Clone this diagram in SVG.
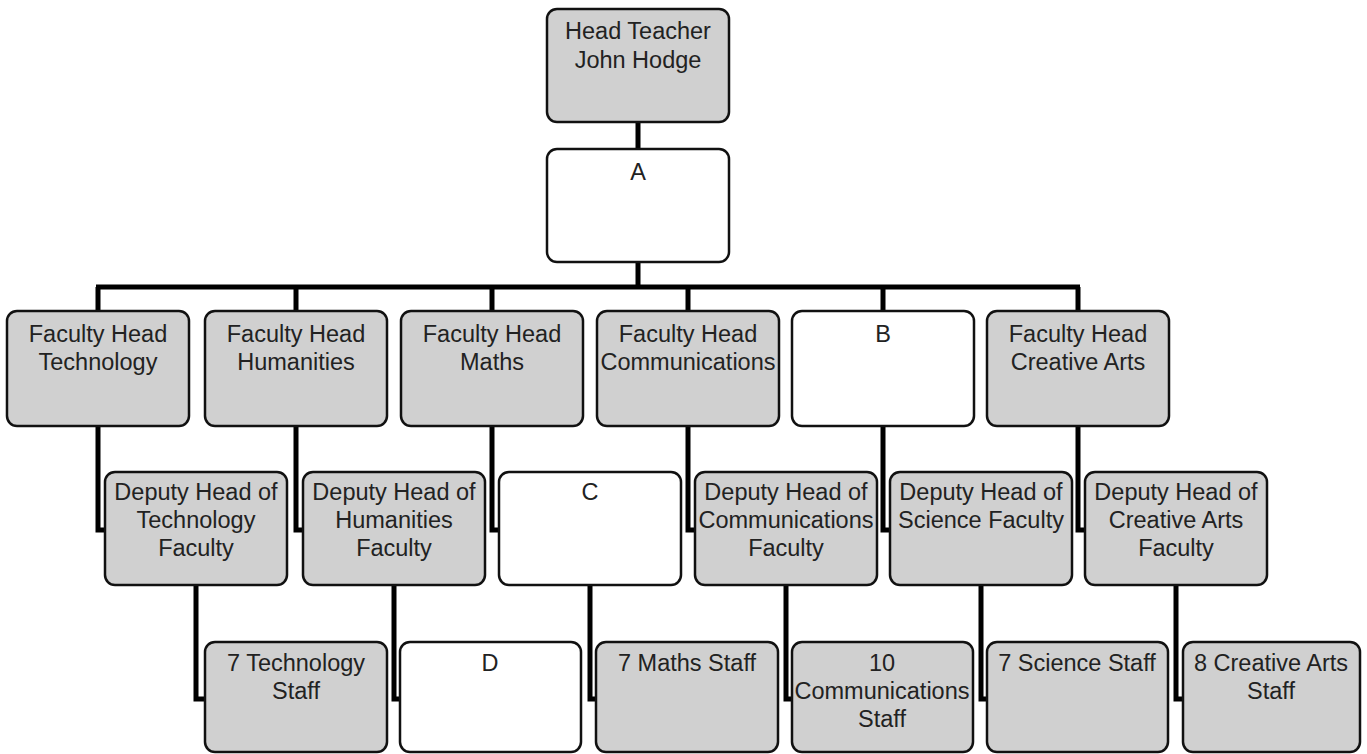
<svg xmlns="http://www.w3.org/2000/svg" width="1367" height="754" viewBox="0 0 1367 754">
<style>
.g rect{fill:#d0d0d0;stroke:#111;stroke-width:2.5}
.w rect{fill:#fff;stroke:#111;stroke-width:2.5}
text{font-family:"Liberation Sans",Arial,Helvetica,sans-serif;font-size:23.5px;fill:#222;text-anchor:middle}
.c{fill:none;stroke:#000;stroke-width:5;stroke-linejoin:miter}
</style>
<rect width="1367" height="754" fill="#fff"/>
<g id="connectors" class="c">
<path d="M638 122V149M638 262V287M96 287H1080M98 287V311M296 287V311M492 287V311M688 287V311M883 287V311M1078 287V311"/>
<path d="M98 426V530H105M296 426V530H303M492 426V530H499M688 426V530H695M883 426V530H890M1078 426V530H1085"/>
<path d="M196 585V699H205M394 585V699H400M590 585V699H596M786 585V699H792M981 585V699H987M1176 585V699H1183"/>
</g>
<g id="head" class="g"><rect x="547" y="9" width="182" height="113" rx="10"/><text x="638" y="39">Head Teacher</text><text x="638" y="68">John Hodge</text></g>
<g id="A" class="w"><rect x="547" y="149" width="182" height="113" rx="10"/><text x="638" y="180">A</text></g>
<g id="fh-tech" class="g"><rect x="7" y="311" width="182" height="115" rx="10"/><text x="98" y="342">Faculty Head</text><text x="98" y="370">Technology</text></g>
<g id="fh-hum" class="g"><rect x="205" y="311" width="182" height="115" rx="10"/><text x="296" y="342">Faculty Head</text><text x="296" y="370">Humanities</text></g>
<g id="fh-maths" class="g"><rect x="401" y="311" width="182" height="115" rx="10"/><text x="492" y="342">Faculty Head</text><text x="492" y="370">Maths</text></g>
<g id="fh-comm" class="g"><rect x="597" y="311" width="182" height="115" rx="10"/><text x="688" y="342">Faculty Head</text><text x="688" y="370">Communications</text></g>
<g id="B" class="w"><rect x="792" y="311" width="182" height="115" rx="10"/><text x="883" y="342">B</text></g>
<g id="fh-arts" class="g"><rect x="987" y="311" width="182" height="115" rx="10"/><text x="1078" y="342">Faculty Head</text><text x="1078" y="370">Creative Arts</text></g>
<g id="dh-tech" class="g"><rect x="105" y="472" width="182" height="113" rx="10"/><text x="196" y="500">Deputy Head of</text><text x="196" y="528">Technology</text><text x="196" y="556">Faculty</text></g>
<g id="dh-hum" class="g"><rect x="303" y="472" width="182" height="113" rx="10"/><text x="394" y="500">Deputy Head of</text><text x="394" y="528">Humanities</text><text x="394" y="556">Faculty</text></g>
<g id="C" class="w"><rect x="499" y="472" width="182" height="113" rx="10"/><text x="590" y="500">C</text></g>
<g id="dh-comm" class="g"><rect x="695" y="472" width="182" height="113" rx="10"/><text x="786" y="500">Deputy Head of</text><text x="786" y="528">Communications</text><text x="786" y="556">Faculty</text></g>
<g id="dh-sci" class="g"><rect x="890" y="472" width="182" height="113" rx="10"/><text x="981" y="500">Deputy Head of</text><text x="981" y="528">Science Faculty</text></g>
<g id="dh-arts" class="g"><rect x="1085" y="472" width="182" height="113" rx="10"/><text x="1176" y="500">Deputy Head of</text><text x="1176" y="528">Creative Arts</text><text x="1176" y="556">Faculty</text></g>
<g id="st-tech" class="g"><rect x="205" y="642" width="182" height="110" rx="10"/><text x="296" y="671">7 Technology</text><text x="296" y="699">Staff</text></g>
<g id="D" class="w"><rect x="400" y="642" width="181" height="110" rx="10"/><text x="490" y="671">D</text></g>
<g id="st-maths" class="g"><rect x="596" y="642" width="182" height="110" rx="10"/><text x="687" y="671">7 Maths Staff</text></g>
<g id="st-comm" class="g"><rect x="792" y="642" width="181" height="110" rx="10"/><text x="882" y="671">10</text><text x="882" y="699">Communications</text><text x="882" y="727">Staff</text></g>
<g id="st-sci" class="g"><rect x="987" y="642" width="181" height="110" rx="10"/><text x="1077" y="671">7 Science Staff</text></g>
<g id="st-arts" class="g"><rect x="1183" y="642" width="177" height="110" rx="10"/><text x="1271" y="671">8 Creative Arts</text><text x="1271" y="699">Staff</text></g>
</svg>
